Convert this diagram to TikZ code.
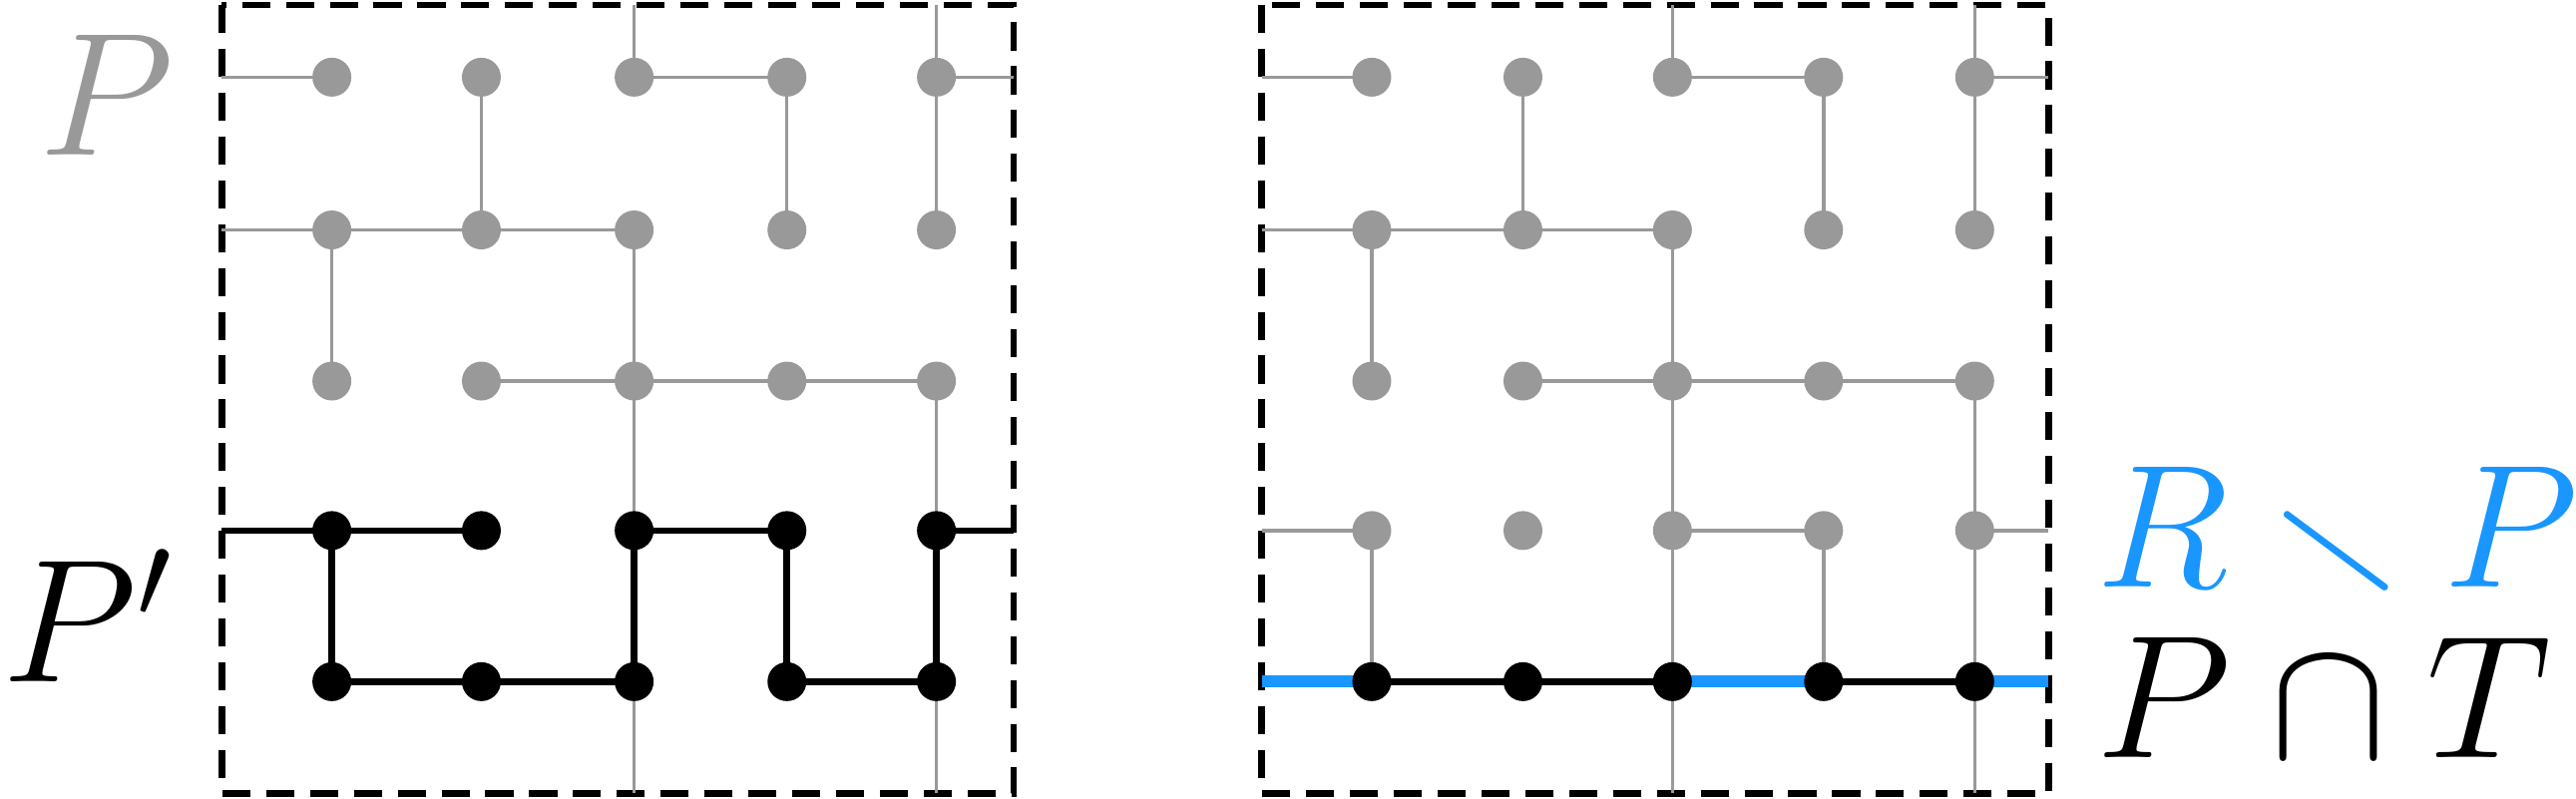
\documentclass[tikz,border=0pt]{standalone}
\usepackage{fix-cm}
\usepackage{amsmath,amssymb}
\definecolor{gr}{HTML}{999999}
\definecolor{bl}{HTML}{1A96FF}
\begin{document}
\begin{tikzpicture}[x=0.016467cm,y=-0.016467cm,
  gdot/.style={circle,fill=gr,inner sep=0pt,minimum size=0.39cm},
  bdot/.style={circle,fill=black,inner sep=0pt,minimum size=0.39cm},
  ge/.style={gr,line width=0.95pt},
  be/.style={black,line width=1.9pt},
  blu/.style={bl,line width=3.4pt},
  frame/.style={black,line width=1.9pt,dash pattern=on 8pt off 4.5pt},
  lab/.style={font=\fontsize{50}{58}\selectfont,inner sep=0pt}]
\useasboundingbox (0,0) rectangle (1568,486);
% frames
\draw[frame] (135,3) rectangle (617,483);
\draw[frame] (768,3) rectangle (1247,483);
% coordinates
\foreach \p/\xl/\xr/\xa/\xb/\xc/\xd/\xe in {L/135/617/202/293/386/479/570, R/768/1247/835/927/1018/1110/1202}{
  \foreach \r/\y in {1/47,2/140,3/232,4/323,5/415}{
    \coordinate (\p l\r) at (\xl,\y);
    \coordinate (\p r\r) at (\xr,\y);
  }
  \coordinate (\p t3) at (\xc,3); \coordinate (\p t5) at (\xe,3);
  \coordinate (\p b3) at (\xc,483); \coordinate (\p b5) at (\xe,483);
  \foreach \c/\x in {1/\xa,2/\xb,3/\xc,4/\xd,5/\xe}{
    \foreach \r/\y in {1/47,2/140,3/232,4/323,5/415}{
      \coordinate (\p\c\r) at (\x,\y);
    }
  }
}
% ---- left panel
\draw[ge] (Ll1)--(L11) (L31)--(L41) (L51)--(Lr1) (Lt3)--(L31) (Lt5)--(L51)
  (L21)--(L22) (L41)--(L42) (L51)--(L52)
  (Ll2)--(L12)--(L22)--(L32) (L12)--(L13) (L32)--(L34)
  (L23)--(L33)--(L43)--(L53)--(L54)
  (L35)--(Lb3) (L55)--(Lb5);
\draw[be] (Ll4)--(L14)--(L24) (L34)--(L44) (L54)--(Lr4)
  (L14)--(L15) (L34)--(L35) (L44)--(L45) (L54)--(L55)
  (L15)--(L25)--(L35) (L45)--(L55);
% ---- right panel
\draw[ge] (Rl1)--(R11) (R31)--(R41) (R51)--(Rr1) (Rt3)--(R31) (Rt5)--(R51)
  (R21)--(R22) (R41)--(R42) (R51)--(R52)
  (Rl2)--(R12)--(R22)--(R32) (R12)--(R13) (R32)--(R33)
  (R23)--(R33)--(R43)--(R53) (R33)--(R34) (R53)--(R54)
  (Rl4)--(R14) (R34)--(R44) (R54)--(Rr4)
  (R14)--(R15) (R34)--(R35) (R44)--(R45) (R54)--(R55)
  (R35)--(Rb3) (R55)--(Rb5);
\draw[blu] (Rl5)--(R15) (R35)--(R45) (R55)--(Rr5);
\draw[be] (R15)--(R35) (R45)--(R55);
% nodes
\foreach \p in {L,R}{
  \foreach \c in {1,...,5}{
    \foreach \r in {1,2,3}{ \node[gdot] (n\p\c\r) at (\p\c\r) {}; }
  }
}
\foreach \c in {1,...,5}{
  \node[bdot] (nL\c4) at (L\c4) {}; \node[bdot] (nL\c5) at (L\c5) {};
  \node[gdot] (nR\c4) at (R\c4) {}; \node[bdot] (nR\c5) at (R\c5) {};
}
% labels
\node[lab,text=gr] (lP) at (65,58) {$P$};
\node[lab,anchor=west] (lPp) at (1,375) {$P'$};
\node[lab,text=bl,anchor=west] (lRP) at (1276,325) {$R\smallsetminus P$};
\node[lab,anchor=west] (lPT) at (1276,425) {$P\cap T$};
\end{tikzpicture}
\end{document}
